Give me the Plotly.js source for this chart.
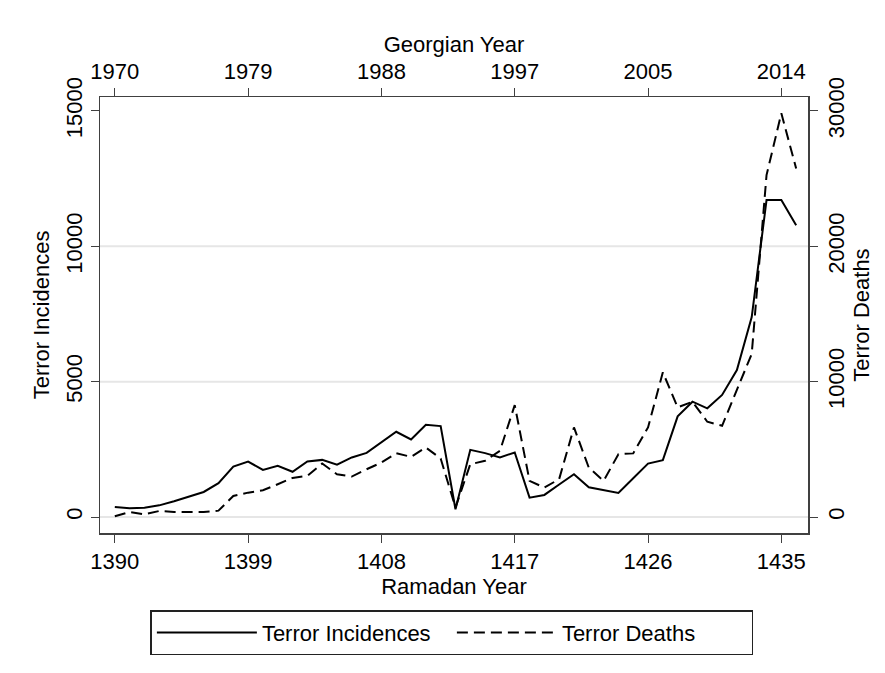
<!DOCTYPE html>
<html>
<head>
<meta charset="utf-8">
<script src="https://cdn.plot.ly/plotly-3.0.1.min.js"></script>
<style>html,body{margin:0;padding:0;background:#fff;}#chart{width:885px;height:673px;}</style>
</head>
<body>
<div id="chart"></div>
<script>
// Ramadan (Hijri) years
const ramadanYears = [1390,1391,1392,1393,1394,1395,1396,1397,1398,1399,1400,1401,1402,1403,1404,1405,1406,1407,1408,1409,1410,1411,1412,1413,1414,1415,1416,1417,1418,1419,1420,1421,1422,1423,1424,1425,1426,1427,1428,1429,1430,1431,1432,1433,1434,1435,1436];
const terrorIncidences = [370,320,345,430,580,750,925,1250,1865,2050,1740,1890,1670,2050,2110,1930,2200,2370,2750,3150,2865,3410,3360,285,2480,2360,2200,2385,715,815,1200,1580,1100,990,890,1430,1975,2100,3720,4260,4015,4510,5430,7385,11710,11710,10780];
const terrorDeaths = [50,370,200,445,370,395,370,470,1555,1800,1975,2420,2890,3040,3950,3160,2990,3530,4025,4715,4445,5135,4320,700,3900,4150,4890,8270,2670,2170,2800,6620,3650,2670,4640,4700,6620,10690,8100,8520,7040,6740,9330,12050,25260,29830,25750];
// Axis ticks
const ramadanTicks = [1390,1399,1408,1417,1426,1435];
const georgianTickText = ['1970','1979','1988','1997','2005','2014'];
const incidenceTicks = [0,5000,10000,15000];
const incidenceTickText = ['0','5000','10000','15000'];
const incidenceGrid = [0,5000,10000];
const deathTicks = [0,10000,20000,30000];
const deathTickText = ['0','10000','20000','30000'];

const font = {family: 'Liberation Sans, Arial, sans-serif', size: 22, color: '#000'};
const xRange = [1389, 1436.8];
const yRange = [-591, 15517];
const y2Range = [yRange[0]*2, yRange[1]*2];
const axisColor = '#404040';

const traces = [
  {x: ramadanYears, y: terrorIncidences, name: 'Terror Incidences', type: 'scatter', mode: 'lines',
   line: {color: '#000', width: 2}, xaxis: 'x', yaxis: 'y'},
  {x: ramadanYears, y: terrorDeaths, name: 'Terror Deaths', type: 'scatter', mode: 'lines',
   line: {color: '#000', width: 2, dash: '11px,6px'}, xaxis: 'x2', yaxis: 'y2'}
];

const gridShapes = incidenceGrid.map(v => ({
  type: 'line', xref: 'paper', yref: 'y', x0: 0, x1: 1, y0: v, y1: v,
  line: {color: '#e6e6e6', width: 2}, layer: 'below'
}));

const layout = {
  width: 885, height: 673,
  margin: {l: 100, r: 77, t: 97, b: 140},
  paper_bgcolor: '#fff', plot_bgcolor: '#fff',
  font: font,
  showlegend: true,
  shapes: gridShapes,
  legend: {orientation: 'h', x: 0.497, xanchor: 'center', y: -0.177, yanchor: 'top',
           bordercolor: '#222', borderwidth: 1.5, font: font, bgcolor: '#fff',
           itemwidth: 100, entrywidth: 185, tracegroupgap: 0},
  xaxis: {range: xRange, tickmode: 'array', tickvals: ramadanTicks, ticks: 'outside', ticklen: 8,
          tickcolor: axisColor, showline: true, linecolor: axisColor, linewidth: 1.5, mirror: true,
          showgrid: false, zeroline: false, tickfont: font,
          title: {text: 'Ramadan Year', font: font, standoff: 0}},
  xaxis2: {range: xRange, overlaying: 'x', side: 'top', anchor: 'y', tickmode: 'array', tickvals: ramadanTicks,
          ticktext: georgianTickText, ticks: 'outside', ticklen: 8, tickcolor: axisColor,
          showline: true, linecolor: axisColor, linewidth: 1.5, showgrid: false, zeroline: false, tickfont: font,
          title: {text: 'Georgian Year', font: font, standoff: 0}},
  yaxis: {range: yRange, tickmode: 'array', tickvals: incidenceTicks, ticktext: incidenceTickText,
          ticks: 'outside', ticklen: 8, tickcolor: axisColor, tickangle: -90, showline: true,
          linecolor: axisColor, linewidth: 1.5, mirror: true,
          showgrid: false, zeroline: false, tickfont: font,
          title: {text: 'Terror Incidences', font: font, standoff: 6}},
  yaxis2: {range: y2Range, overlaying: 'y', side: 'right', anchor: 'x', tickmode: 'array', tickvals: deathTicks,
          ticktext: deathTickText, ticks: 'outside', ticklen: 8, tickcolor: axisColor, tickangle: -90,
          showline: true, linecolor: axisColor, linewidth: 1.5, showgrid: false, zeroline: false, tickfont: font,
          title: {text: 'Terror Deaths', font: font, standoff: 2}}
};

Plotly.newPlot('chart', traces, layout, {displayModeBar: false, staticPlot: true});
</script>
</body>
</html>
